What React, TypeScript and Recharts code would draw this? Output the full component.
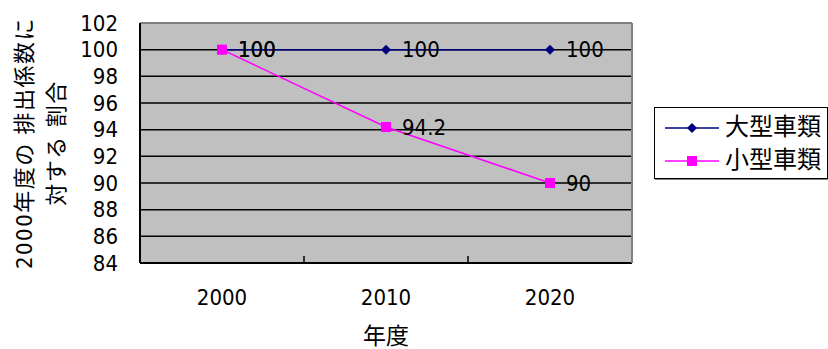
import { LineChart, Line, XAxis, YAxis, CartesianGrid, Legend, LabelList } from "recharts";

const years = ["2000", "2010", "2020"];
const largeVehicles = [100, 100, 100];
const smallVehicles = [100, 94.2, 90];
const yTicks = [84, 86, 88, 90, 92, 94, 96, 98, 100, 102];
const seriesNames = ["大型車類", "小型車類"];

const data = years.map((year, i) => ({
  year,
  large: largeVehicles[i],
  small: smallVehicles[i],
}));

const FONT = '"DejaVu Sans Condensed", "Noto Sans CJK JP", sans-serif';
const NAVY = "#000080";
const MAGENTA = "#ff00ff";

const Diamond = ({ cx, cy }: any) => {
  if (cx == null || cy == null) return null;
  const r = 5;
  return <polygon points={`${cx},${cy - r} ${cx + r},${cy} ${cx},${cy + r} ${cx - r},${cy}`} fill={NAVY} />;
};

const Square = ({ cx, cy }: any) => {
  if (cx == null || cy == null) return null;
  return <rect x={cx - 5} y={cy - 5} width={10} height={10} fill={MAGENTA} />;
};

// category label plus a small inward tick on the right edge of its band
const YearTick = ({ x, y, payload, index }: any) => {
  const edge = x + (payload.offset || 0);
  return (
    <g>
      {index < years.length - 1 && payload.offset ? (
        <line x1={edge} x2={edge} y1={y} y2={y - 7} stroke="#000" strokeWidth={1.5} />
      ) : null}
      <text x={x} y={y + 34} textAnchor="middle" dominantBaseline="central" style={{ fontFamily: FONT, fontSize: 22, fill: "#000" }}>
        {payload.value}
      </text>
    </g>
  );
};

const YTitle = ({ viewBox }: any) => {
  const cy = viewBox.y + viewBox.height / 2;
  const x1 = viewBox.x + 24;
  const x2 = viewBox.x + 56;
  const style = { fontFamily: FONT, fontSize: 22, fill: "#000", letterSpacing: 1.5 };
  return (
    <g>
      <text x={x1} y={cy} transform={`rotate(-90 ${x1} ${cy})`} textAnchor="middle" dominantBaseline="central" style={style}>
        2000年度の 排出係数に
      </text>
      <text x={x2} y={cy} transform={`rotate(-90 ${x2} ${cy})`} textAnchor="middle" dominantBaseline="central" style={style}>
        対する 割合
      </text>
    </g>
  );
};

const LegendBox = () => (
  <div
    style={{
      border: "1.5px solid #000",
      boxShadow: "1px 1px 0 #808080",
      background: "#fff",
      padding: "3px 0 1px 10px",
      fontFamily: FONT,
      fontSize: 24,
      lineHeight: "33px",
    }}
  >
    {seriesNames.map((name, i) => (
      <div key={name} style={{ display: "flex", alignItems: "center" }}>
        <svg width={54} height={20} style={{ marginRight: 6 }}>
          <line x1={0} y1={10} x2={54} y2={10} stroke={i === 0 ? NAVY : MAGENTA} strokeWidth={1.5} />
          {i === 0 ? <Diamond cx={27} cy={10} /> : <Square cx={27} cy={10} />}
        </svg>
        <span>{name}</span>
      </div>
    ))}
  </div>
);

export default function App() {
  return (
    <div style={{ position: "fixed", left: 0, top: 0, background: "#fff" }}>
      <LineChart width={828} height={349} data={data} margin={{ top: 22, right: 195, left: 0, bottom: 0 }}>
        <CartesianGrid vertical={false} stroke="#000" strokeWidth={1.5} fill="#c0c0c0" fillOpacity={1} />
        <XAxis
          dataKey="year"
          scale="band"
          height={86}
          tickLine={false}
          tickSize={0}
          tickMargin={0}
          axisLine={{ stroke: "#000", strokeWidth: 2 }}
          tick={<YearTick />}
          label={{ value: "年度", position: "insideBottom", offset: 5, style: { fontFamily: FONT, fontSize: 23, fill: "#000" } }}
        />
        <XAxis xAxisId="top" orientation="top" height={1} tick={false} tickLine={false} axisLine={{ stroke: "#808080", strokeWidth: 2 }} />
        <YAxis
          domain={[84, 102]}
          ticks={yTicks}
          width={140}
          tickLine={false}
          axisLine={{ stroke: "#000", strokeWidth: 2 }}
          tickMargin={16}
          tick={{ fontFamily: FONT, fontSize: 22, fill: "#000" }}
          interval={0}
          label={<YTitle />}
        />
        <YAxis yAxisId="right" orientation="right" width={1} tick={false} tickLine={false} axisLine={{ stroke: "#808080", strokeWidth: 2 }} />
        <Legend layout="vertical" align="center" verticalAlign="middle" wrapperStyle={{ left: 654, top: 107, width: 174 }} content={<LegendBox />} />
        <Line dataKey="large" name={seriesNames[0]} stroke={NAVY} strokeWidth={1.5} dot={<Diamond />} activeDot={false} isAnimationActive={false}>
          <LabelList dataKey="large" position="right" offset={16} style={{ fontFamily: FONT, fontSize: 22, fill: "#000" }} />
        </Line>
        <Line dataKey="small" name={seriesNames[1]} stroke={MAGENTA} strokeWidth={1.5} dot={<Square />} activeDot={false} isAnimationActive={false}>
          <LabelList dataKey="small" position="right" offset={16} style={{ fontFamily: FONT, fontSize: 22, fill: "#000" }} />
        </Line>
      </LineChart>
    </div>
  );
}
